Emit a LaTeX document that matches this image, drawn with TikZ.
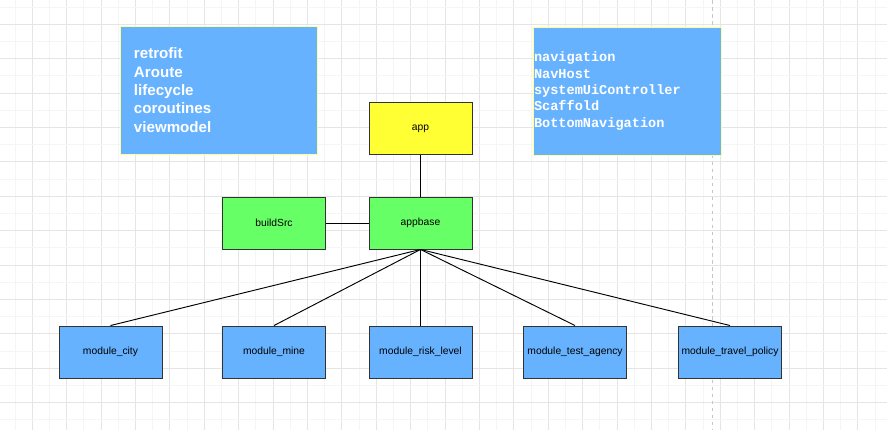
\documentclass[tikz,border=0pt]{standalone}
\usepackage{fontspec}
\setmainfont{Liberation Sans}
\newfontfamily\codefont{Liberation Mono}
\colorlet{box edge}{black!80}
\definecolor{module fill}{HTML}{66B2FF}
\definecolor{app fill}{HTML}{FFFF33}
\definecolor{base fill}{HTML}{66FF66}
\definecolor{note edge}{HTML}{FFFF99}
\tikzset{
  plain/.style={draw=box edge, line width=0.8pt, minimum width=3.09cm, minimum height=1.56cm,
    inner sep=0pt, font=\fontsize{8.8}{10}\selectfont},
  module/.style={plain, fill=module fill},
  note/.style={fill=module fill, draw=note edge, thin, minimum height=3.84cm,
    align=left, text=white},
  link/.style={draw=black, line width=0.8pt}
}
\begin{document}
\begin{tikzpicture}[x=0.03cm, y=-0.03cm]
  \useasboundingbox (0,0) rectangle (887,430);
  \begin{scope}
    \clip (0,0) rectangle (887,430);
    \foreach \k in {0,...,52} {
      \pgfmathsetmacro\gx{-2.4+17.2*\k}
      \ifodd\k \draw[gray!8] (\gx,0) -- (\gx,430);
      \else \draw[gray!20] (\gx,0) -- (\gx,430); \fi
    }
    \foreach \k in {0,...,26} {
      \pgfmathsetmacro\gy{-10.4+17.2*\k}
      \ifodd\k \draw[gray!8] (0,\gy) -- (887,\gy);
      \else \draw[gray!20] (0,\gy) -- (887,\gy); \fi
    }
    % page break
    \draw[gray!45, dashed] (712,0) -- (712,430);
  \end{scope}

  \node[note, text width=5.07cm, inner xsep=0.42cm,
    font=\fontsize{12.9}{15.7}\selectfont\bfseries] (libs) at (218.5,90)
    {retrofit\\Aroute\\lifecycle\\coroutines\\viewmodel};
  \node[note, text width=5.58cm, inner xsep=0.03cm,
    font=\fontsize{11.6}{14}\selectfont\codefont\bfseries] (ui) at (627,91)
    {navigation\\NavHost\\systemUiController\\Scaffold\\BottomNavigation};

  \node[plain, fill=app fill] (app) at (420.5,128.5) {app};
  \node[plain, fill=base fill] (appbase) at (420.5,223) {appbase};
  \node[plain, fill=base fill] (buildsrc) at (274,223) {buildSrc};

  \node[module] (city) at (110.5,352) {module\_city};
  \node[module] (mine) at (274,352) {module\_mine};
  \node[module] (risk) at (420.5,352) {module\_risk\_level};
  \node[module] (test) at (575,352) {module\_test\_agency};
  \node[module] (travel) at (730,352) {module\_travel\_policy};

  \draw[link] (app) -- (appbase);
  \draw[link] (buildsrc) -- (appbase);
  \foreach \m in {city,mine,risk,test,travel}
    \draw[link] (appbase.south) -- (\m.north);
\end{tikzpicture}
\end{document}
